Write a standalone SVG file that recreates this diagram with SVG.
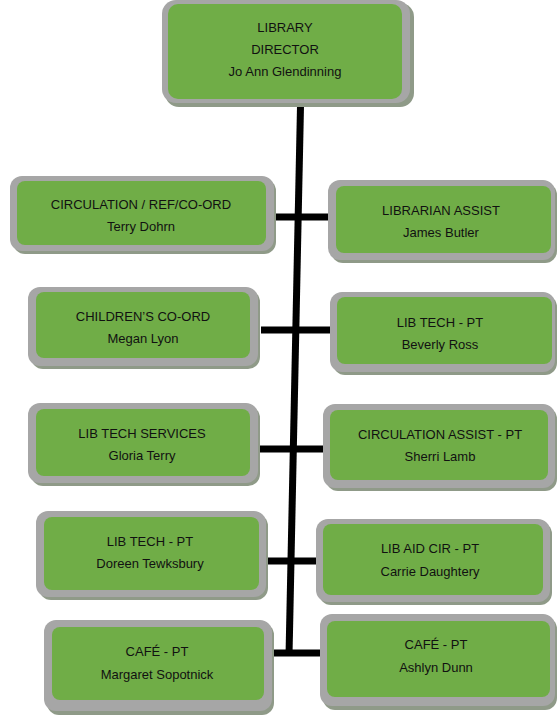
<svg xmlns="http://www.w3.org/2000/svg" width="557" height="720" viewBox="0 0 557 720">
<style>
.sh{fill:#8f9a88}
.out{fill:#a6a6a6}
.in{fill:#70ad47}
text{font-family:"Liberation Sans",Arial,sans-serif;font-size:13px;fill:#111;text-anchor:middle}
.ln{stroke:#000;stroke-width:7;fill:none}
</style>
<rect width="557" height="720" fill="#fff"/>
<g id="connectors">
<path class="ln" d="M300.5,106 L289,656"/>
<path class="ln" d="M272,217 L328,217"/>
<path class="ln" d="M261,330 L330,330"/>
<path class="ln" d="M257,449 L324,449"/>
<path class="ln" d="M265,561 L317,561"/>
<path class="ln" d="M270,653 L320,653"/>
</g>
<g id="director">
<rect class="sh" x="165" y="3" width="249" height="104" rx="14"/>
<rect class="out" x="162" y="0" width="248" height="103" rx="14"/>
<rect class="in" x="168" y="4" width="234" height="95" rx="10"/>
<text x="285" y="32">LIBRARY</text>
<text x="285" y="54">DIRECTOR</text>
<text x="285" y="76">Jo Ann Glendinning</text>
</g>
<g id="circ-ref">
<rect class="sh" x="13" y="179" width="263" height="75" rx="12"/>
<rect class="out" x="10" y="176" width="264" height="75" rx="12"/>
<rect class="in" x="17" y="181" width="249" height="64" rx="8"/>
<text x="141" y="209">CIRCULATION / REF/CO-ORD</text>
<text x="141" y="231">Terry Dohrn</text>
</g>
<g id="lib-assist">
<rect class="sh" x="331" y="183" width="226" height="80" rx="12"/>
<rect class="out" x="328" y="180" width="227" height="80" rx="12"/>
<rect class="in" x="336" y="186" width="215" height="67" rx="8"/>
<text x="441" y="215">LIBRARIAN ASSIST</text>
<text x="441" y="237">James Butler</text>
</g>
<g id="childrens">
<rect class="sh" x="31" y="290" width="229" height="79" rx="12"/>
<rect class="out" x="28" y="287" width="230" height="79" rx="12"/>
<rect class="in" x="36" y="292" width="214" height="66" rx="8"/>
<text x="143" y="321">CHILDREN’S CO-ORD</text>
<text x="143" y="343">Megan Lyon</text>
</g>
<g id="libtech-ross">
<rect class="sh" x="333" y="295" width="224" height="80" rx="12"/>
<rect class="out" x="330" y="292" width="225" height="80" rx="12"/>
<rect class="in" x="337" y="297" width="215" height="67" rx="8"/>
<text x="440" y="327">LIB TECH - PT</text>
<text x="440" y="349">Beverly Ross</text>
</g>
<g id="tech-services">
<rect class="sh" x="31" y="406" width="229" height="80" rx="12"/>
<rect class="out" x="28" y="403" width="230" height="80" rx="12"/>
<rect class="in" x="36" y="409" width="214" height="67" rx="8"/>
<text x="142" y="438">LIB TECH SERVICES</text>
<text x="142" y="460">Gloria Terry</text>
</g>
<g id="circ-assist">
<rect class="sh" x="326" y="407" width="231" height="84" rx="12"/>
<rect class="out" x="323" y="404" width="232" height="84" rx="12"/>
<rect class="in" x="330" y="410" width="218" height="70" rx="8"/>
<text x="440" y="439">CIRCULATION ASSIST - PT</text>
<text x="440" y="461">Sherri Lamb</text>
</g>
<g id="libtech-tewksbury">
<rect class="sh" x="39" y="514" width="229" height="86" rx="12"/>
<rect class="out" x="36" y="511" width="230" height="86" rx="12"/>
<rect class="in" x="44" y="517" width="215" height="73" rx="8"/>
<text x="150" y="546">LIB TECH - PT</text>
<text x="150" y="568">Doreen Tewksbury</text>
</g>
<g id="libaid">
<rect class="sh" x="319" y="522" width="233" height="83" rx="12"/>
<rect class="out" x="316" y="519" width="234" height="83" rx="12"/>
<rect class="in" x="323" y="524" width="220" height="71" rx="8"/>
<text x="430" y="553">LIB AID CIR  - PT</text>
<text x="430" y="576">Carrie Daughtery</text>
</g>
<g id="cafe-sopotnick">
<rect class="sh" x="47" y="623" width="227" height="92" rx="12"/>
<rect class="out" x="44" y="620" width="228" height="91" rx="12"/>
<rect class="in" x="52" y="627" width="212" height="73" rx="8"/>
<text x="157" y="656">CAFÉ - PT</text>
<text x="157" y="679">Margaret Sopotnick</text>
</g>
<g id="cafe-dunn">
<rect class="sh" x="323" y="617" width="234" height="93" rx="12"/>
<rect class="out" x="320" y="614" width="235" height="92" rx="12"/>
<rect class="in" x="327" y="621" width="223" height="76" rx="8"/>
<text x="436" y="649">CAFÉ - PT</text>
<text x="436" y="672">Ashlyn Dunn</text>
</g>
</svg>
